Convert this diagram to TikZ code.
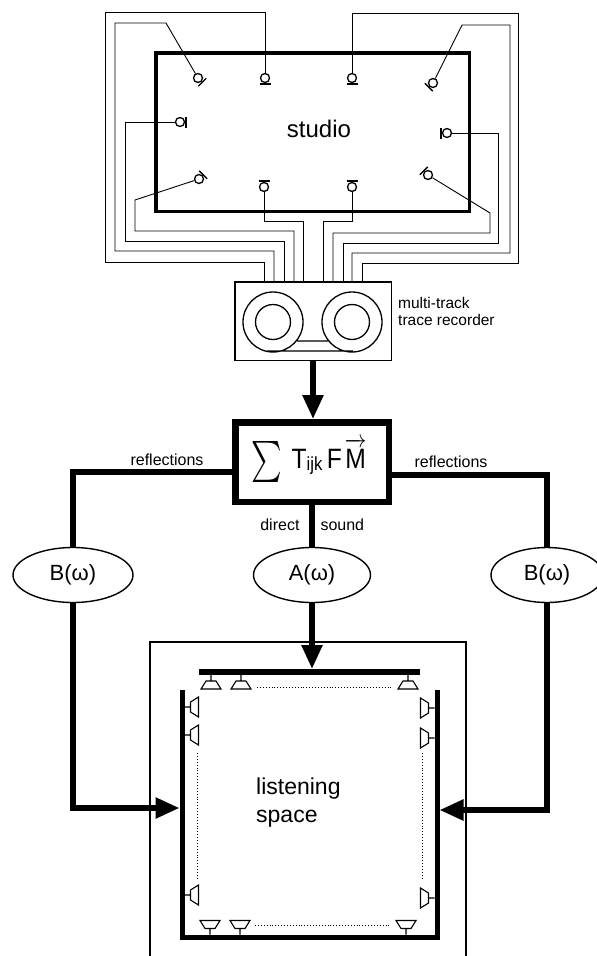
\documentclass[tikz,border=0pt]{standalone}
\usepackage{fontspec}
\setmainfont{Liberation Sans}
\usepackage{graphicx}
\usepackage{tikz}
\usetikzlibrary{arrows.meta, positioning, shapes.geometric}
\tikzset{wire/.style={line width=0.9pt}, fat/.style={line width=5.5pt}, fatarrow/.style={fat, -{Triangle[length=24pt, width=20pt]}},
  pics/micbar/.style={code={\draw[line width=1.4pt] (6,-5.5) -- (6,5.5);}},
  pics/speaker/.style={code={\draw[line width=1.1pt] (0,0) -- (6,0) (6,-5) -- (14,-10) -- (14,10) -- (6,5) -- cycle;}}}
\tikzstyle{mic}=[circle, draw, line width=1.3pt, minimum size=9pt, inner sep=0pt]
\tikzstyle{filter}=[ellipse, draw, line width=1.4pt, minimum height=55pt, inner sep=0pt, font=\fontsize{22}{22}\selectfont]
\tikzstyle{smalltext}=[font=\fontsize{16}{16}\selectfont]

\begin{document}
\begin{tikzpicture}[x=1pt, y=-1pt]
\useasboundingbox (0,0) rectangle (597,956);
\node[draw, line width=1.5pt, minimum width=156.5pt, minimum height=78.5pt] (rec) at (313,321) {};
\node[draw, line width=6.5pt, minimum width=153.5pt, minimum height=79.5pt, inner sep=0pt] (sum) at (312,462) {\scalebox{0.88}[1]{\fontsize{28}{28}\selectfont\rule[-18pt]{0pt}{18pt}\raisebox{-4pt}{\scalebox{3.3}[4.1]{\normalsize$\sum$}}\hspace{11pt}T\raisebox{-2pt}{\fontsize{19}{19}\selectfont ijk}\hspace{5pt}F\hspace{3pt}$\overrightarrow{\hbox{M\rule{0pt}{22pt}}}$\hspace{7pt}}};
\node[filter, minimum width=120pt] (B1) at (73,575) {B(ω)};
\node[filter, minimum width=117pt] (A) at (312,575) {A(ω)};
\node[filter, minimum width=112pt] (B2) at (547,575) {B(ω)};
\path (198,78) pic[rotate=-45] {micbar} node[mic] (mTL) {} (265,78) pic[rotate=-90] {micbar} node[mic] (mT1) {} (352,78) pic[rotate=-90] {micbar} node[mic] (mT2) {} (433,83) pic[rotate=-135] {micbar} node[mic] (mTR) {};
\path (180,122) pic {micbar} node[mic] (mL) {} (447,133) pic[rotate=180] {micbar} node[mic] (mR) {};
\path (199,179) pic[rotate=45] {micbar} node[mic] (mBL) {} (264,187) pic[rotate=90] {micbar} node[mic] (mB1) {} (352,187) pic[rotate=90] {micbar} node[mic] (mB2) {} (428,175) pic[rotate=135] {micbar} node[mic] (mBR) {};
\draw[wire] (mT1) |- (105,12) |- (264,262) -- (264,0 |- rec.north);
\draw[wire] (mTL) -- (166,23) -- (115,23) |- (274,251) -- (274,0 |- rec.north);
\draw[wire] (mL) -- (125,122) |- (284,241) -- (284,0 |- rec.north);
\draw[wire] (mBL) -- (135,200) |- (294,231) -- (294,0 |- rec.north);
\draw[wire] (mB1) |- (303,221) -- (303,0 |- rec.north);
\draw[wire] (mB2) |- (323,221) -- (323,0 |- rec.north);
\draw[wire] (mBR) -- (490,213) |- (333,233) -- (333,0 |- rec.north);
\draw[wire] (mR) -- (498,133) |- (343,243) -- (343,0 |- rec.north);
\draw[wire] (mTR) -- (462,25) -- (510,25) |- (352,253) -- (352,0 |- rec.north);
\draw[wire] (mT2) |- (518,13) |- (362,263) -- (362,0 |- rec.north);
\draw[line width=3.2pt] (156,53) rectangle (469.7,211.7);
\node[font=\fontsize{24}{24}\selectfont, inner sep=0pt] (studio) at (319,129) {studio};
\draw[line width=1.3pt] (273,322) circle (30pt) circle (17.5pt) (352,322) circle (30pt) circle (17.5pt) (267,351) -- (353,351) (297,341) -- (328,341);
\node[right=6pt of rec.north east, anchor=north west, yshift=-16pt, inner sep=0pt, align=left, font=\fontsize{15.5}{17}\selectfont] (recText) {multi-track\\trace recorder};
\draw[fatarrow] (rec) -- (rec |- sum.north);
\draw[fat] ([yshift=-10pt]sum.west) -| (B1);
\draw[fat] ([yshift=-13pt]sum.east) -| (B2);
\node[smalltext, anchor=base] (reflL) at (167,465) {reflections};
\node[smalltext, anchor=base] (reflR) at (451,467) {reflections};
\draw[fat] (sum) -- (A);
\node[smalltext, anchor=base east] (direct) at (303,530) {direct};
\node[smalltext, anchor=base west] (sound) at (317,530) {sound};
\coordinate (wallL) at (179.5,808);
\coordinate (wallR) at (439.5,810);
\coordinate (barTop) at (312,669);
\draw[line width=1.2pt] (150,956) -- (150,642) -- (466,642) -- (466,956);
\draw[line width=5pt] (182,690) -- (182,937) -- (437,937) -- (437,690);
\draw[line width=5.7pt] (199,672) -- (420,672);
\draw[fatarrow] (B1) |- (wallL);
\draw[fatarrow] (B2) |- (wallR);
\draw[fatarrow] (A) -- (barTop);
\path (211,675) pic[rotate=-90] {speaker} (241,675) pic[rotate=-90] {speaker} (408,675) pic[rotate=-90] {speaker} (210,934.5) pic[rotate=90] {speaker} (240,934.5) pic[rotate=90] {speaker} (406,934.5) pic[rotate=90] {speaker};
\path (184.5,707) pic {speaker} (184.5,735) pic {speaker} (184.5,895) pic {speaker} (434.5,708) pic[rotate=180] {speaker} (434.5,738) pic[rotate=180] {speaker} (434.5,898) pic[rotate=180] {speaker};
\draw[dotted, line width=0.9pt] (257,687) -- (392,687) (255,925) -- (389,925) (197,753) -- (197,880) (422,753) -- (422,880);
\node[anchor=north west, inner sep=0pt, align=left, font=\fontsize{23}{28}\selectfont] (listen) at (256,778) {listening\\space};
\end{tikzpicture}
\end{document}
